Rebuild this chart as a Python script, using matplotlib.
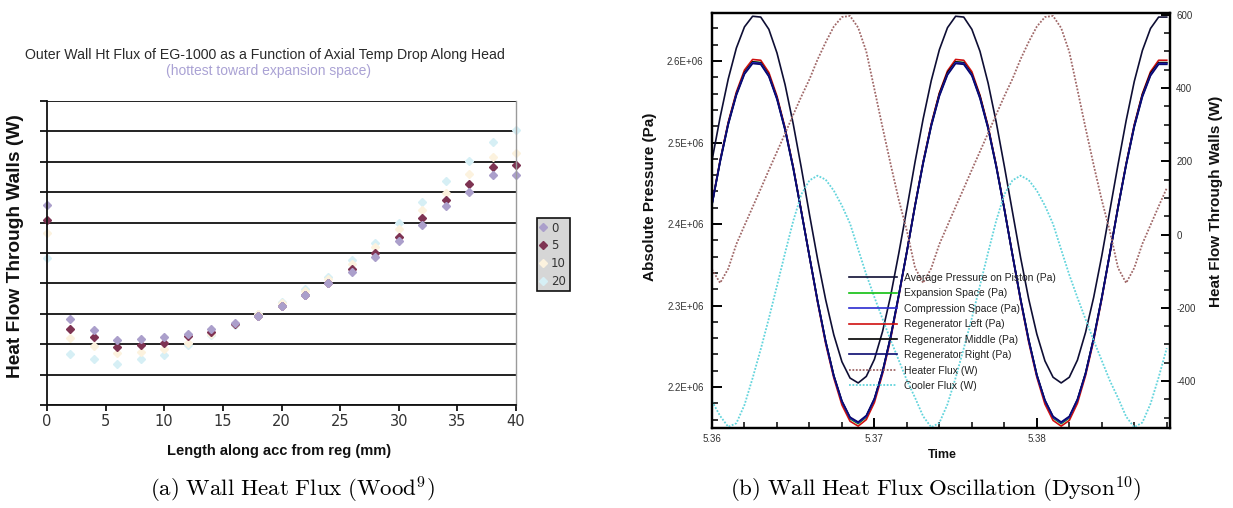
import numpy as np
import matplotlib
matplotlib.use("Agg")
import matplotlib.pyplot as plt
from matplotlib.ticker import FixedLocator, MultipleLocator, FuncFormatter

plt.rcParams["mathtext.fontset"] = "cm"
plt.rcParams["font.family"] = ["Liberation Sans", "DejaVu Sans"]

# ---------------- Left panel data (Wood) ----------------
position_mm = [0, 2, 4, 6, 8, 10, 12, 14, 16, 18, 20, 22, 24, 26, 28, 30, 32, 34, 36, 38, 40]
flux_drop_0 = [6.58, 2.83, 2.47, 2.14, 2.17, 2.24, 2.34, 2.50, 2.70, 2.93, 3.26, 3.62, 4.00, 4.37, 4.87, 5.39, 5.92, 6.55, 7.00, 7.57, 7.57]
flux_drop_5 = [6.09, 2.50, 2.24, 1.91, 1.97, 2.04, 2.27, 2.40, 2.66, 2.93, 3.26, 3.62, 4.00, 4.47, 5.00, 5.53, 6.15, 6.74, 7.27, 7.83, 7.90]
flux_drop_10 = [5.66, 2.20, 1.95, 1.70, 1.75, 1.85, 2.05, 2.35, 2.65, 2.98, 3.35, 3.75, 4.15, 4.65, 5.20, 5.80, 6.40, 6.97, 7.60, 8.15, 8.30]
flux_drop_20 = [4.84, 1.68, 1.51, 1.35, 1.51, 1.64, 1.97, 2.30, 2.62, 3.00, 3.40, 3.80, 4.20, 4.77, 5.33, 6.00, 6.68, 7.37, 8.03, 8.65, 9.05]
drop_labels = ["0", "5", "10", "20"]
drop_colors = ["#ab9fcb", "#7e3352", "#fcf2de", "#d6eff5"]
left_xticks = [0, 5, 10, 15, 20, 25, 30, 35, 40]

# ---------------- Right panel data (Dyson) ----------------
time_s = [5.3600, 5.3605, 5.3610, 5.3615, 5.3620, 5.3625, 5.3630, 5.3635, 5.3640, 5.3645,
          5.3650, 5.3655, 5.3660, 5.3665, 5.3670, 5.3675, 5.3680, 5.3685, 5.3690, 5.3695,
          5.3700, 5.3705, 5.3710, 5.3715, 5.3720, 5.3725, 5.3730, 5.3735, 5.3740, 5.3745,
          5.3750, 5.3755, 5.3760, 5.3765, 5.3770, 5.3775, 5.3780, 5.3785, 5.3790, 5.3795,
          5.3800, 5.3805, 5.3810, 5.3815, 5.3820, 5.3825, 5.3830, 5.3835, 5.3840, 5.3845,
          5.3850, 5.3855, 5.3860, 5.3865, 5.3870, 5.3875, 5.3880]
# pressures in MPa (1E+06 Pa)
p_avg_piston = [2.478, 2.531, 2.578, 2.616, 2.642, 2.655, 2.654, 2.639, 2.610, 2.571,
                2.523, 2.469, 2.412, 2.357, 2.307, 2.264, 2.231, 2.211, 2.205, 2.213,
                2.234, 2.268, 2.312, 2.364, 2.419, 2.476, 2.529, 2.576, 2.614, 2.641,
                2.655, 2.654, 2.639, 2.612, 2.573, 2.525, 2.471, 2.415, 2.359, 2.308,
                2.265, 2.232, 2.212, 2.205, 2.212, 2.233, 2.267, 2.310, 2.361, 2.417,
                2.473, 2.527, 2.575, 2.613, 2.640, 2.654, 2.654]
p_expansion = [2.424, 2.477, 2.523, 2.560, 2.586, 2.599, 2.598, 2.583, 2.555, 2.516,
               2.469, 2.415, 2.360, 2.305, 2.255, 2.213, 2.181, 2.161, 2.155, 2.163,
               2.184, 2.218, 2.261, 2.312, 2.366, 2.422, 2.475, 2.521, 2.559, 2.585,
               2.599, 2.598, 2.584, 2.556, 2.518, 2.471, 2.418, 2.362, 2.307, 2.257,
               2.214, 2.182, 2.162, 2.155, 2.162, 2.183, 2.216, 2.259, 2.309, 2.364,
               2.420, 2.473, 2.520, 2.558, 2.584, 2.598, 2.598]
p_compression = [2.424, 2.477, 2.523, 2.559, 2.585, 2.598, 2.597, 2.582, 2.554, 2.516,
                 2.469, 2.415, 2.360, 2.305, 2.255, 2.213, 2.182, 2.162, 2.156, 2.164,
                 2.185, 2.218, 2.261, 2.312, 2.366, 2.422, 2.475, 2.521, 2.558, 2.584,
                 2.598, 2.597, 2.583, 2.555, 2.518, 2.471, 2.418, 2.362, 2.307, 2.257,
                 2.214, 2.183, 2.163, 2.156, 2.163, 2.184, 2.216, 2.259, 2.309, 2.364,
                 2.420, 2.473, 2.520, 2.557, 2.583, 2.597, 2.597]
p_regen_left = [2.425, 2.478, 2.525, 2.562, 2.589, 2.602, 2.601, 2.586, 2.557, 2.518,
                2.470, 2.416, 2.360, 2.304, 2.253, 2.211, 2.178, 2.158, 2.152, 2.160,
                2.181, 2.216, 2.259, 2.311, 2.366, 2.423, 2.476, 2.523, 2.561, 2.588,
                2.602, 2.601, 2.587, 2.558, 2.520, 2.472, 2.419, 2.362, 2.306, 2.255,
                2.212, 2.179, 2.159, 2.152, 2.159, 2.180, 2.214, 2.257, 2.308, 2.364,
                2.421, 2.474, 2.522, 2.560, 2.587, 2.601, 2.601]
p_regen_middle = [2.425, 2.478, 2.524, 2.560, 2.586, 2.599, 2.598, 2.583, 2.555, 2.517,
                  2.470, 2.416, 2.361, 2.306, 2.256, 2.214, 2.182, 2.162, 2.156, 2.164,
                  2.185, 2.219, 2.262, 2.313, 2.367, 2.423, 2.476, 2.522, 2.560, 2.586,
                  2.599, 2.598, 2.584, 2.557, 2.519, 2.472, 2.419, 2.363, 2.308, 2.258,
                  2.215, 2.183, 2.163, 2.156, 2.163, 2.184, 2.217, 2.260, 2.310, 2.365,
                  2.421, 2.474, 2.521, 2.559, 2.585, 2.598, 2.598]
p_regen_right = [2.424, 2.476, 2.522, 2.558, 2.584, 2.597, 2.596, 2.581, 2.553, 2.515,
                 2.468, 2.415, 2.360, 2.306, 2.256, 2.214, 2.183, 2.163, 2.157, 2.165,
                 2.186, 2.219, 2.262, 2.313, 2.366, 2.422, 2.474, 2.520, 2.557, 2.583,
                 2.597, 2.596, 2.582, 2.554, 2.517, 2.470, 2.418, 2.362, 2.308, 2.258,
                 2.215, 2.184, 2.164, 2.157, 2.164, 2.185, 2.217, 2.260, 2.310, 2.364,
                 2.420, 2.472, 2.519, 2.556, 2.582, 2.596, 2.596]
heater_flux_W = [-95, -132, -93, -26, 25, 75, 125, 176, 226, 276,
                 327, 377, 424, 478, 525, 568, 594, 597, 565, 500,
                 397, 293, 192, 95, 10, -90, -132, -92, -26, 25,
                 76, 126, 177, 227, 277, 328, 378, 425, 479, 526,
                 568, 594, 597, 564, 499, 396, 291, 190, 94, 9,
                 -91, -132, -91, -25, 26, 77, 127]
cooler_flux_W = [-455, -495, -525, -515, -465, -392, -313, -229, -140, -50,
                 37, 110, 148, 161, 150, 120, 79, 30, -40, -109,
                 -171, -230, -288, -343, -398, -445, -496, -526, -514, -463,
                 -391, -311, -228, -139, -49, 38, 110, 148, 161, 149,
                 120, 79, 29, -41, -110, -172, -231, -289, -344, -399,
                 -446, -497, -526, -513, -462, -390, -310]
pressure_labels = ["Average Pressure on Piston (Pa)", "Expansion Space (Pa)",
                   "Compression Space (Pa)", "Regenerator Left (Pa)",
                   "Regenerator Middle (Pa)", "Regenerator Right (Pa)"]
flux_labels = ["Heater Flux (W)", "Cooler Flux (W)"]
pressure_colors = ["#0e0e34", "#10c010", "#2a2ad0", "#d01010", "#000000", "#0a0a70"]
flux_colors = ["#a06868", "#62d4dc"]
left_yticks_right = [2.2e6, 2.3e6, 2.4e6, 2.5e6, 2.6e6]
right_yticks_right = [-400, -200, 0, 200, 400, 600]
time_ticks = [5.36, 5.37, 5.38]

W, H = 1233, 508
fig = plt.figure(figsize=(W / 100, H / 100), dpi=100)


def fx(px):
    return px / W


def fy(py):
    return 1 - py / H


# ================= Left panel =================
axL = fig.add_axes([fx(47), fy(405), fx(516 - 47), (405 - 101) / H])
series = [flux_drop_20, flux_drop_10, flux_drop_5, flux_drop_0]
labels_order = [drop_labels[3], drop_labels[2], drop_labels[1], drop_labels[0]]
colors_order = [drop_colors[3], drop_colors[2], drop_colors[1], drop_colors[0]]
handles = {}
for vals, lab, col in zip(series, labels_order, colors_order):
    h, = axL.plot(position_mm, vals, linestyle="none", marker="D", ms=3.9,
                  color=col, mec=col, clip_on=False, zorder=2.2, label=lab)
    handles[lab] = h
axL.set_xlim(0, 40)
axL.set_ylim(0, 10)
axL.set_yticks(range(0, 11))
axL.set_yticklabels([])
axL.set_xticks(left_xticks)
axL.set_xticklabels([str(v) for v in left_xticks])
axL.yaxis.grid(True, color="#111111", lw=1.3, zorder=1)
axL.set_axisbelow(True)
axL.spines["top"].set_visible(False)
axL.spines["right"].set_color("#9a9a9a")
axL.spines["right"].set_linewidth(1.0)
axL.spines["left"].set_linewidth(1.3)
axL.spines["bottom"].set_linewidth(1.3)
axL.spines["left"].set_color("#111111")
axL.spines["bottom"].set_color("#111111")
axL.spines["left"].set_zorder(3)
axL.tick_params(axis="y", direction="out", length=5, width=1.3, color="#111111")
axL.tick_params(axis="x", direction="out", length=4.5, width=1.3, color="#111111",
                labelsize=10.5, labelcolor="#333333", pad=2)
for t in axL.get_xticklabels():
    t.set_fontfamily("DejaVu Sans")

leg = axL.legend([handles[l] for l in drop_labels], drop_labels,
                 loc="upper left", bbox_to_anchor=(fx(537), fy(218)),
                 bbox_transform=fig.transFigure, borderaxespad=0,
                 frameon=True, fancybox=False, edgecolor="#111111",
                 facecolor="#d6d6d6", framealpha=1, fontsize=8.5,
                 handlelength=0.5, handletextpad=0.4, labelspacing=0.4,
                 borderpad=0.3, markerscale=1.0)
leg.get_frame().set_linewidth(1.2)
for t in leg.get_texts():
    t.set_color("#333333")
    t.set_fontfamily("DejaVu Sans")

fig.text(fx(265), fy(55), "Outer Wall Ht Flux of EG-1000 as a Function of Axial Temp Drop Along Head",
         ha="center", va="center", fontsize=10.2, color="#2a2a2a")
fig.text(fx(268), fy(71), "(hottest toward expansion space)",
         ha="center", va="center", fontsize=10, color="#aaa2d4")
fig.text(fx(16), fy(246), "Heat Flow Through Walls (W)", rotation=90,
         ha="center", va="center", fontsize=13.8, fontweight="bold", color="#111111")
fig.text(fx(279), fy(451), "Length along acc from reg (mm)",
         ha="center", va="center", fontsize=10.5, fontweight="bold", color="#111111")

# ================= Right panel =================
axR = fig.add_axes([fx(712), fy(428), fx(1170 - 712), (428 - 13) / H])
t_arr = np.array(time_s)
pressure_series = [p_avg_piston, p_expansion, p_compression, p_regen_left,
                   p_regen_middle, p_regen_right]
draw_order = [1, 3, 4, 2, 5, 0]
ph = {}
for i in draw_order:
    h, = axR.plot(t_arr, np.array(pressure_series[i]) * 1e6, color=pressure_colors[i],
                  lw=1.2, label=pressure_labels[i], zorder=3)
    ph[i] = h
axR.set_xlim(5.36, 5.3882)
axR.set_ylim(2.1497e6, 2.659e6)
axR.yaxis.set_major_locator(FixedLocator(left_yticks_right))
axR.yaxis.set_minor_locator(MultipleLocator(0.02e6))
axR.yaxis.set_major_formatter(FuncFormatter(lambda v, p: "{:.1E}".format(v)))
axR.xaxis.set_major_locator(FixedLocator(time_ticks))
axR.xaxis.set_minor_locator(MultipleLocator(0.002))
axR.xaxis.set_major_formatter(FuncFormatter(lambda v, p: "{:.2f}".format(v)))
for sp in axR.spines.values():
    sp.set_linewidth(1.6)
    sp.set_color("#000000")
axR.tick_params(which="major", direction="in", length=7, width=1.4, labelsize=7,
                labelcolor="#333333")
axR.tick_params(which="minor", direction="in", length=4.5, width=1.1)
axR.tick_params(axis="y", pad=6)
axR.tick_params(axis="x", pad=4.5)

axR2 = axR.twinx()
fh = []
for vals, col, lab in zip([heater_flux_W, cooler_flux_W], flux_colors, flux_labels):
    h, = axR2.plot(t_arr, vals, color=col, lw=1.3, linestyle=(0, (1, 0.9)), label=lab)
    fh.append(h)
axR2.set_ylim(-528, 605)
axR2.yaxis.set_major_locator(FixedLocator(right_yticks_right))
axR2.yaxis.set_minor_locator(MultipleLocator(50))
axR2.yaxis.set_major_formatter(FuncFormatter(lambda v, p: "{:d}".format(int(round(v)))))
for sp in axR2.spines.values():
    sp.set_linewidth(1.6)
axR2.tick_params(which="major", direction="in", length=6.5, width=1.4, labelsize=7,
                 labelcolor="#333333", pad=4.5)
axR2.tick_params(which="minor", direction="in", length=4.5, width=1.1)

all_handles = [ph[i] for i in range(6)] + fh
all_labels = pressure_labels + flux_labels
legR = axR2.legend(all_handles, all_labels, loc="upper left",
                   bbox_to_anchor=(fx(849), fy(273)), bbox_transform=fig.transFigure,
                   borderaxespad=0, borderpad=0, frameon=False, fontsize=7.5,
                   handlelength=4.6, handletextpad=0.7, labelspacing=0.52)
for t in legR.get_texts():
    t.set_color("#222222")

fig.text(fx(650), fy(197), "Absolute Pressure (Pa)", rotation=90, ha="center", va="center",
         fontsize=11, fontweight="bold", color="#111111")
fig.text(fx(1216), fy(201), "Heat Flow Through Walls (W)", rotation=90, ha="center",
         va="center", fontsize=11, fontweight="bold", color="#111111")
fig.text(fx(942), fy(455), "Time", ha="center", va="center", fontsize=9,
         fontweight="bold", color="#111111")

# ================= Captions =================
fig.text(fx(292), fy(490), r"$\mathrm{(a)\ Wall\ Heat\ Flux\ (Wood^{9})}$",
         ha="center", va="center", fontsize=16.5)
fig.text(fx(936), fy(490), r"$\mathrm{(b)\ Wall\ Heat\ Flux\ Oscillation\ (Dyson^{10})}$",
         ha="center", va="center", fontsize=16.5)

fig.savefig("out.png", dpi=100)
